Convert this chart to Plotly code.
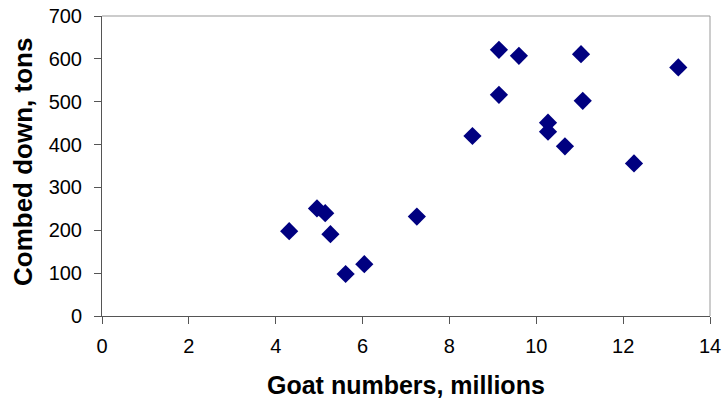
import plotly.graph_objects as go

goats = [9.14, 9.60, 11.03, 13.27, 9.14, 11.07, 8.53, 10.27, 10.27, 10.66, 12.25,
         4.31, 4.95, 5.14, 5.26, 7.25, 6.04, 5.61]
down = [621, 607, 611, 580, 516, 502, 420, 451, 430, 396, 356,
        198, 251, 240, 191, 232, 121, 98]

x_ticks = [0, 2, 4, 6, 8, 10, 12, 14]
y_ticks = [0, 100, 200, 300, 400, 500, 600, 700]

x_title = "Goat numbers, millions"
y_title = "Combed down, tons"

fig = go.Figure(go.Scatter(
    x=goats, y=down, mode="markers",
    marker=dict(symbol="diamond", size=14, color="#000080", line=dict(width=0)),
))

font = "Liberation Sans, Arial, sans-serif"
fig.update_layout(
    width=725, height=400,
    margin=dict(l=102, r=15, t=16, b=84, autoexpand=False),
    plot_bgcolor="white", paper_bgcolor="white",
    showlegend=False,
    font=dict(family=font, size=20, color="black"),
    xaxis=dict(
        range=[0, 14], tickvals=x_ticks, showgrid=False, zeroline=False,
        showline=True, linecolor="#555555", linewidth=1,
        ticks="outside", ticklen=7, tickcolor="#555555",
        tickfont=dict(size=20), ticklabelstandoff=5, automargin=False,
    ),
    yaxis=dict(
        range=[0, 700], tickvals=y_ticks, showgrid=False, zeroline=False,
        showline=True, linecolor="#555555", linewidth=1,
        ticks="outside", ticklen=7, tickcolor="#555555",
        tickfont=dict(size=20), ticklabelstandoff=8, automargin=False,
    ),
    annotations=[
        dict(text="<b>" + x_title + "</b>", xref="paper", yref="paper", x=0.5, y=0,
             xanchor="center", yanchor="middle", yshift=-69, showarrow=False,
             font=dict(size=25)),
        dict(text="<b>" + y_title + "</b>", xref="paper", yref="paper", x=0, y=0.5,
             xanchor="center", yanchor="middle", xshift=-79, yshift=4, textangle=-90,
             showarrow=False, font=dict(size=26)),
    ],
    shapes=[
        dict(type="line", xref="paper", yref="paper", x0=0, x1=1, y0=1, y1=1,
             line=dict(color="#999999", width=1)),
        dict(type="line", xref="paper", yref="paper", x0=1, x1=1, y0=0, y1=1,
             line=dict(color="#999999", width=1)),
    ],
)

fig.write_html("out.html")
